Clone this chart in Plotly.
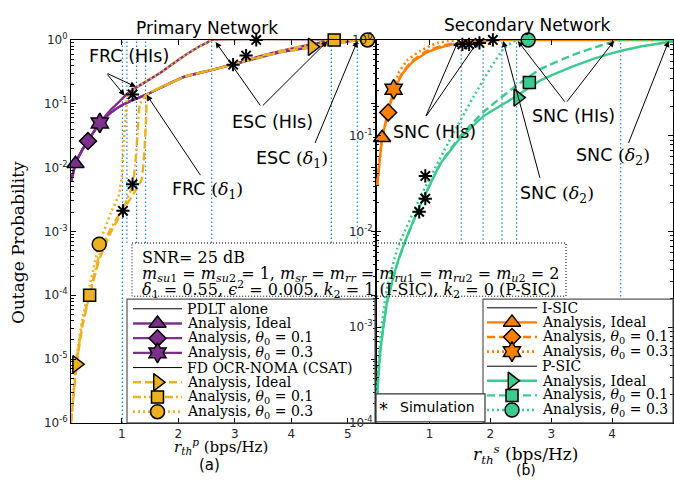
import math
import plotly.graph_objects as go

W, H = 674, 485

# ---------------- Primary network (a) ----------------
thr_a = [1.01, 1.09, 1.26, 1.42, 2.59, 4.71, 5.17]

pdlt_id_x = [0.1, 0.18, 0.3, 0.4, 0.5, 0.61, 0.8, 1.0, 1.2, 1.44, 1.8, 2.14, 2.6, 3.0, 3.4, 3.8, 4.2, 4.4, 4.7, 5.0, 5.17, 5.5]
pdlt_id_y = [0.006, 0.0115, 0.019, 0.026, 0.036, 0.049, 0.072, 0.095, 0.115, 0.14, 0.2, 0.27, 0.34, 0.42, 0.52, 0.64, 0.73, 0.78, 0.86, 0.94, 1.0, 1.0]
pdlt_01_x = [0.1, 0.18, 0.3, 0.4, 0.5, 0.61, 0.8, 1.0, 1.2, 1.44, 1.8, 2.14, 2.6, 3.0, 3.4, 3.8, 4.2, 4.5, 4.71, 5.5]
pdlt_01_y = [0.006, 0.0115, 0.019, 0.026, 0.036, 0.049, 0.072, 0.095, 0.115, 0.14, 0.2, 0.27, 0.34, 0.42, 0.54, 0.67, 0.8, 0.91, 1.0, 1.0]
pdlt_03_x = [0.1, 0.18, 0.3, 0.4, 0.5, 0.61, 0.8, 1.0, 1.1, 1.3, 1.67, 1.9, 2.14, 2.35, 2.5, 2.59, 5.5]
pdlt_03_y = [0.006, 0.0115, 0.019, 0.026, 0.036, 0.05, 0.08, 0.118, 0.145, 0.19, 0.3, 0.42, 0.59, 0.77, 0.9, 1.0, 1.0]
pdlt_id_mk = ([0.18], [0.0115])
pdlt_01_mk = ([0.4], [0.026])
pdlt_03_mk = ([0.61], [0.05])

fd_id_x = [0.1, 0.2, 0.3, 0.43, 0.6, 0.8, 1.0, 1.2, 1.35, 1.4, 1.43, 1.46, 1.8, 2.14, 2.6, 3.0, 3.4, 3.8, 4.2, 4.37, 4.7, 5.0, 5.17, 5.5]
fd_id_y = [1.0e-6, 8.3e-6, 3.2e-5, 1.0e-4, 3.6e-4, 9.5e-4, 2.0e-3, 3.8e-3, 6.5e-3, 0.018, 0.06, 0.14, 0.2, 0.27, 0.34, 0.42, 0.52, 0.64, 0.73, 0.78, 0.86, 0.94, 1.0, 1.0]
fd_01_x = [0.1, 0.2, 0.3, 0.43, 0.6, 0.8, 1.02, 1.19, 1.24, 1.28, 1.32, 1.44, 1.8, 2.14, 2.6, 3.0, 3.4, 3.8, 4.2, 4.5, 4.71, 5.5]
fd_01_y = [1.0e-6, 9.5e-6, 3.5e-5, 1.05e-4, 4.2e-4, 1.1e-3, 2.3e-3, 5.2e-3, 0.012, 0.035, 0.1, 0.14, 0.2, 0.27, 0.34, 0.42, 0.54, 0.67, 0.8, 0.91, 1.0, 1.0]
fd_03_x = [0.1, 0.2, 0.3, 0.43, 0.6, 0.8, 0.95, 1.0, 1.04, 1.08, 1.11, 1.3, 1.67, 1.9, 2.14, 2.35, 2.5, 2.59, 5.5]
fd_03_y = [1.1e-6, 1.1e-5, 4.2e-5, 1.4e-4, 6.3e-4, 1.9e-3, 3.8e-3, 7.5e-3, 0.03, 0.09, 0.145, 0.19, 0.3, 0.42, 0.59, 0.77, 0.9, 1.0, 1.0]
fd_id_mk = ([0.2, 4.37], [8.3e-6, 0.78])
fd_01_mk = ([0.43, 4.76], [1.0e-4, 1.0])
fd_03_mk = ([0.6, 5.35], [6.3e-4, 1.0])

sim_a_x = [1.02, 1.19, 1.19, 2.97, 3.2, 3.38]
sim_a_y = [2.1e-3, 5.5e-3, 0.14, 0.41, 0.57, 1.0]

# ---------------- Secondary network (b) ----------------
thr_b = [1.52, 1.88, 2.19, 2.43]
thr_b_far = [4.14]

isic_id_x = [0.14, 0.18, 0.22, 0.27, 0.32, 0.41, 0.55, 0.71, 0.96, 1.2, 1.35, 1.5, 1.7, 1.9, 2.05, 2.19, 5.0]
isic_id_y = [0.03, 0.055, 0.095, 0.13, 0.175, 0.29, 0.44, 0.58, 0.74, 0.84, 0.89, 0.92, 0.95, 0.97, 0.99, 1.0, 1.0]
isic_01_x = [0.14, 0.18, 0.22, 0.27, 0.32, 0.41, 0.55, 0.71, 0.96, 1.2, 1.4, 1.6, 1.75, 1.88, 5.0]
isic_01_y = [0.03, 0.055, 0.095, 0.13, 0.175, 0.29, 0.45, 0.6, 0.77, 0.87, 0.92, 0.95, 0.98, 1.0, 1.0]
isic_03_x = [0.14, 0.18, 0.22, 0.27, 0.32, 0.41, 0.49, 0.63, 0.85, 1.0, 1.13, 1.3, 1.52, 5.0]
isic_03_y = [0.03, 0.055, 0.095, 0.13, 0.175, 0.3, 0.45, 0.61, 0.77, 0.86, 0.93, 0.97, 1.0, 1.0]
isic_id_mk = ([0.22], [0.095])
isic_01_mk = ([0.32], [0.175])
isic_03_mk = ([0.41], [0.305])

psic_id_x = [0.12, 0.15, 0.2, 0.3, 0.45, 0.6, 0.85, 1.18, 1.51, 1.9, 2.39, 2.83, 3.39, 3.94, 4.49, 5.0]
psic_id_y = [1.0e-4, 2.5e-4, 6.3e-4, 1.8e-3, 4.2e-3, 7.9e-3, 0.019, 0.051, 0.095, 0.162, 0.25, 0.38, 0.54, 0.71, 0.86, 0.965]
psic_01_x = [0.12, 0.15, 0.2, 0.3, 0.45, 0.6, 0.85, 1.18, 1.51, 1.9, 2.39, 2.83, 3.39, 3.8, 4.14, 5.0]
psic_01_y = [1.0e-4, 2.5e-4, 6.3e-4, 1.8e-3, 4.2e-3, 7.9e-3, 0.019, 0.051, 0.1, 0.18, 0.32, 0.5, 0.71, 0.87, 1.0, 1.0]
psic_03_x = [0.12, 0.15, 0.2, 0.3, 0.47, 0.85, 1.35, 1.73, 2.01, 2.23, 2.43, 5.0]
psic_03_y = [1.0e-4, 3.2e-4, 8.9e-4, 2.5e-3, 6.6e-3, 0.023, 0.095, 0.26, 0.52, 0.83, 1.0, 1.0]
psic_id_mk = ([2.45], [0.25])
psic_01_mk = ([2.64], [0.36])
psic_03_mk = ([2.62], [1.0])

sim_b_x = [0.83, 0.93, 0.93, 1.54, 1.65, 1.82, 2.04]
sim_b_y = [0.016, 0.022, 0.038, 0.9, 0.9, 0.93, 1.0]

# ---------------- styling ----------------
PURPLE = "#7E2F8E"
YELLOW = "#EDB120"
ORANGE = "#FF8000"
GREEN = "#3CCB8E"
BLUE = "#1F7FD0"
DASH = "8px,4px"
DASHDOT = "8px,3px,2px,3px"
DOT = "2px,3px"
GUIDE = "1.5px,2.5px"
SANS = "DejaVu Sans"
SERIF = "DejaVu Serif"

fig = go.Figure()


def curve(x, y, color, dash, xa, ya, width=2.4):
    fig.add_trace(go.Scatter(
        x=x, y=y, mode="lines", xaxis=xa, yaxis=ya, hoverinfo="skip",
        line=dict(color=color, dash=dash, width=width, shape="spline", smoothing=0.4)))


def marks(pts, symbol, color, xa, ya, size=13):
    fig.add_trace(go.Scatter(
        x=pts[0], y=pts[1], mode="markers", xaxis=xa, yaxis=ya, cliponaxis=False,
        marker=dict(symbol=symbol, size=size, color=color, line=dict(color="black", width=1.5))))


def stars(x, y, xa, ya):
    fig.add_trace(go.Scatter(
        x=x, y=y, mode="markers", xaxis=xa, yaxis=ya, cliponaxis=False,
        marker=dict(symbol="asterisk-open", size=11, color="black", line=dict(color="black", width=2))))


def guide(t, xa, ya, lo):
    # vertical dotted guide at a rate threshold, from 10**lo up to 1
    fig.add_trace(go.Scatter(x=[t, t], y=[10.0 ** lo, 1.0], mode="lines", xaxis=xa, yaxis=ya,
                             hoverinfo="skip", line=dict(color=BLUE, width=1.2, dash=GUIDE)))


# threshold guide lines (drawn first so curves sit on top)
for t in thr_a:
    guide(t, "x", "y", -6 if t == thr_a[0] else -3.18)
for t in thr_b:
    guide(t, "x2", "y2", -2.13)
for t in thr_b_far:
    guide(t, "x2", "y2", -2.68)

# panel (a)
curve(pdlt_id_x, pdlt_id_y, PURPLE, "solid", "x", "y")
curve(pdlt_01_x, pdlt_01_y, PURPLE, "solid", "x", "y")
curve(pdlt_03_x, pdlt_03_y, PURPLE, "solid", "x", "y")
curve(fd_id_x, fd_id_y, YELLOW, DASH, "x", "y")
curve(fd_01_x, fd_01_y, YELLOW, DASHDOT, "x", "y")
curve(fd_03_x, fd_03_y, YELLOW, DOT, "x", "y", width=2.6)
marks(pdlt_id_mk, "triangle-up", PURPLE, "x", "y", 15)
marks(pdlt_01_mk, "diamond", PURPLE, "x", "y", 13)
marks(pdlt_03_mk, "hexagram", PURPLE, "x", "y", 15)
marks(fd_id_mk, "triangle-right", YELLOW, "x", "y", 15)
marks(fd_01_mk, "square", YELLOW, "x", "y", 12)
marks(fd_03_mk, "circle", YELLOW, "x", "y", 14)
stars(sim_a_x, sim_a_y, "x", "y")

# panel (b)
curve(isic_id_x, isic_id_y, ORANGE, "solid", "x2", "y2")
curve(isic_01_x, isic_01_y, ORANGE, DASH, "x2", "y2")
curve(isic_03_x, isic_03_y, ORANGE, DOT, "x2", "y2", width=2.6)
curve(psic_id_x, psic_id_y, GREEN, "solid", "x2", "y2")
curve(psic_01_x, psic_01_y, GREEN, DASH, "x2", "y2")
curve(psic_03_x, psic_03_y, GREEN, DOT, "x2", "y2", width=2.6)
marks(isic_id_mk, "triangle-up", ORANGE, "x2", "y2", 15)
marks(isic_01_mk, "diamond", ORANGE, "x2", "y2", 13)
marks(isic_03_mk, "hexagram", ORANGE, "x2", "y2", 15)
marks(psic_id_mk, "triangle-right", GREEN, "x2", "y2", 15)
marks(psic_01_mk, "square", GREEN, "x2", "y2", 12)
marks(psic_03_mk, "circle", GREEN, "x2", "y2", 14)
stars(sim_b_x, sim_b_y, "x2", "y2")

# ---------------- legends (drawn on a pixel overlay) ----------------
legend_a = [
    ("PDLT alone", "black", "solid", None, 1.0),
    ("Analysis, Ideal", PURPLE, "solid", "triangle-up", 2.4),
    ("Analysis, <i>θ</i><sub>0</sub> = 0.1", PURPLE, "solid", "diamond", 2.4),
    ("Analysis, <i>θ</i><sub>0</sub> = 0.3", PURPLE, "solid", "hexagram", 2.4),
    ("FD OCR-NOMA (CSAT)", "black", "solid", None, 1.0),
    ("Analysis, Ideal", YELLOW, DASH, "triangle-right", 2.4),
    ("Analysis, <i>θ</i><sub>0</sub> = 0.1", YELLOW, DASHDOT, "square", 2.4),
    ("Analysis, <i>θ</i><sub>0</sub> = 0.3", YELLOW, DOT, "circle", 2.6),
]
legend_b = [
    ("I-SIC", "black", "solid", None, 1.0),
    ("Analysis, Ideal", ORANGE, "solid", "triangle-up", 2.4),
    ("Analysis, <i>θ</i><sub>0</sub> = 0.1", ORANGE, DASH, "diamond", 2.4),
    ("Analysis, <i>θ</i><sub>0</sub> = 0.3", ORANGE, DOT, "hexagram", 2.6),
    ("P-SIC", "black", "solid", None, 1.0),
    ("Analysis, Ideal", GREEN, "solid", "triangle-right", 2.4),
    ("Analysis, <i>θ</i><sub>0</sub> = 0.1", GREEN, DASH, "square", 2.4),
    ("Analysis, <i>θ</i><sub>0</sub> = 0.3", GREEN, DOT, "circle", 2.6),
]
msize = {"triangle-up": 15, "diamond": 13, "hexagram": 15, "triangle-right": 15, "square": 12, "circle": 14}

annotations = []


def text(x, y, s, size, family=SERIF, xanchor="center", angle=0, color="black"):
    annotations.append(dict(x=x, y=y, xref="x3", yref="y3", text=s, showarrow=False,
                            xanchor=xanchor, yanchor="middle", textangle=angle,
                            font=dict(family=family, size=size, color=color)))


def draw_legend(entries, box, x0, x1, xtext, row0, step):
    fig.add_shape(type="rect", xref="x3", yref="y3", x0=box[0], x1=box[1], y0=box[2], y1=box[3],
                  line=dict(color="#555555", width=1.2), layer="above")
    for i, (lab, col, dash, sym, lw) in enumerate(entries):
        yy = row0 + i * step
        fig.add_trace(go.Scatter(x=[x0, x1], y=[yy, yy], mode="lines", xaxis="x3", yaxis="y3",
                                 hoverinfo="skip", line=dict(color=col, dash=dash, width=lw)))
        if sym:
            fig.add_trace(go.Scatter(x=[(x0 + x1) / 2], y=[yy], mode="markers", xaxis="x3", yaxis="y3",
                                     hoverinfo="skip",
                                     marker=dict(symbol=sym, size=msize[sym], color=col,
                                                 line=dict(color="black", width=1.5))))
        text(xtext, yy, lab, 14, xanchor="left")


draw_legend(legend_a, (127, 375, 300, 428), 133, 182, 185, 310, 15.2)
draw_legend(legend_b, (483, 673, 300, 428), 487, 537, 540, 309, 15.1)

# parameter box
fig.add_shape(type="rect", xref="x3", yref="y3", x0=132, x1=566, y0=242, y1=297,
              line=dict(color="black", width=1, dash="1px,2px"), layer="above")
text(140, 257, "SNR= 25 dB", 16, xanchor="left")
text(140, 275, "<i>m</i><sub><i>su</i>1</sub> = <i>m</i><sub><i>su</i>2</sub> = 1, "
               "<i>m</i><sub><i>sr</i></sub> = <i>m</i><sub><i>rr</i></sub> = "
               "<i>m</i><sub><i>ru</i>1</sub> = <i>m</i><sub><i>ru</i>2</sub> = "
               "<i>m</i><sub><i>u</i>2</sub> = 2", 16, xanchor="left")
text(140, 290, "<i>δ</i><sub>1</sub> = 0.55, <i>ϵ</i><sup>2</sup> = 0.005, "
               "<i>k</i><sub>2</sub> = 1 (I-SIC), <i>k</i><sub>2</sub> = 0 (P-SIC)", 16, xanchor="left")

# simulation key
fig.add_shape(type="rect", xref="x3", yref="y3", x0=376, x1=485, y0=398, y1=427,
              fillcolor="white", line=dict(color="#333333", width=1.2), layer="above")
text(383, 413, "*", 18, family=SANS)
text(398, 412, "Simulation", 14, family=SANS, xanchor="left")

# titles and axis labels
text(207, 20, "Primary Network", 17, family=SANS)
text(527, 17, "Secondary Network", 17, family=SANS)
text(18, 242, "Outage Probability", 17, angle=-90)
text(221, 452, "<i>r</i><sub><i>th</i></sub><sup><i>p</i></sup> (bps/Hz)", 15)
text(525, 461, "<i>r</i><sub><i>th</i></sub><sup><i>s</i></sup> (bps/Hz)", 17)
text(209, 472, "(a)", 15, family=SANS)
text(526, 477, "(b)", 14, family=SANS)

# callouts
d1 = "<span style='font-family:DejaVu Serif'>(<i>δ</i><sub>1</sub>)</span>"
d2 = "<span style='font-family:DejaVu Serif'>(<i>δ</i><sub>2</sub>)</span>"
text(129, 49, "FRC (HIs)", 17.5, family=SANS)
text(207, 188, "FRC " + d1, 17.5, family=SANS)
text(272, 117, "ESC (HIs)", 17.5, family=SANS)
text(292, 156, "ESC " + d1, 17.5, family=SANS)
text(434, 127, "SNC (HIs)", 17.5, family=SANS)
text(557, 192, "SNC " + d2, 17.5, family=SANS)
text(573, 111, "SNC (HIs)", 17.5, family=SANS)
text(613, 153, "SNC " + d2, 17.5, family=SANS)


def arrow(tail, tip, xa, ya):
    annotations.append(dict(x=tip[0], y=math.log10(tip[1]), ax=tail[0], ay=math.log10(tail[1]),
                            xref=xa, yref=ya, axref=xa, ayref=ya, text="", showarrow=True,
                            arrowhead=2, arrowsize=1.2, arrowwidth=1, arrowcolor="black", standoff=0))


arrow((0.72, 0.305), (1.25, 0.184), "x", "y")
arrow((0.72, 0.305), (1.05, 0.135), "x", "y")
arrow((2.41, 0.0072), (1.44, 0.138), "x", "y")
arrow((3.47, 0.089), (2.66, 0.93), "x", "y")
arrow((3.47, 0.089), (4.64, 0.955), "x", "y")
arrow((4.41, 0.023), (5.17, 0.955), "x", "y")
arrow((0.93, 0.155), (1.47, 0.975), "x2", "y2")
arrow((0.93, 0.155), (1.80, 0.975), "x2", "y2")
arrow((2.82, 0.035), (2.21, 0.975), "x2", "y2")
arrow((3.24, 0.219), (2.45, 0.975), "x2", "y2")
arrow((3.24, 0.219), (4.03, 0.975), "x2", "y2")
arrow((4.26, 0.081), (4.93, 0.975), "x2", "y2")

# ---------------- axes ----------------
base = dict(showline=True, linecolor="black", linewidth=1, mirror="allticks", ticks="inside",
            ticklen=5, tickcolor="black", showgrid=False, zeroline=False,
            tickfont=dict(family=SANS, size=12, color="#262626"))


def log_axis(lo):
    vals = [10.0 ** e for e in range(lo, 1)]
    return dict(base, type="log", range=[lo, 0], tickvals=vals,
                ticktext=[f"10<sup>{e}</sup>" for e in range(lo, 1)],
                minor=dict(ticks="inside", ticklen=3, tickcolor="black",
                           tickvals=[m * 10.0 ** e for e in range(lo, 0) for m in range(2, 10)]))


ydom = [1 - 428 / H, 1 - 32 / H]
fig.update_layout(
    width=W, height=H, autosize=False, margin=dict(l=0, r=0, t=0, b=0),
    paper_bgcolor="white", plot_bgcolor="rgba(0,0,0,0)", showlegend=False,
    xaxis=dict(base, domain=[71 / W, 376 / W], range=[0.1, 5.5], tickvals=[1, 2, 3, 4, 5],
               ticktext=["1", "2", "3", "4", "5"], anchor="y"),
    yaxis=dict(log_axis(-6), domain=ydom, anchor="x"),
    xaxis2=dict(base, domain=[376 / W, 673 / W], range=[0.12, 5.0], tickvals=[1, 2, 3, 4, 5],
                ticktext=["1", "2", "3", "4", "5"], anchor="y2"),
    yaxis2=dict(log_axis(-4), domain=ydom, anchor="x2"),
    xaxis3=dict(domain=[0, 1], range=[0, W], visible=False, anchor="y3", fixedrange=True),
    yaxis3=dict(domain=[0, 1], range=[H, 0], visible=False, anchor="x3", fixedrange=True),
    annotations=annotations,
)

fig.write_html("out.html")
